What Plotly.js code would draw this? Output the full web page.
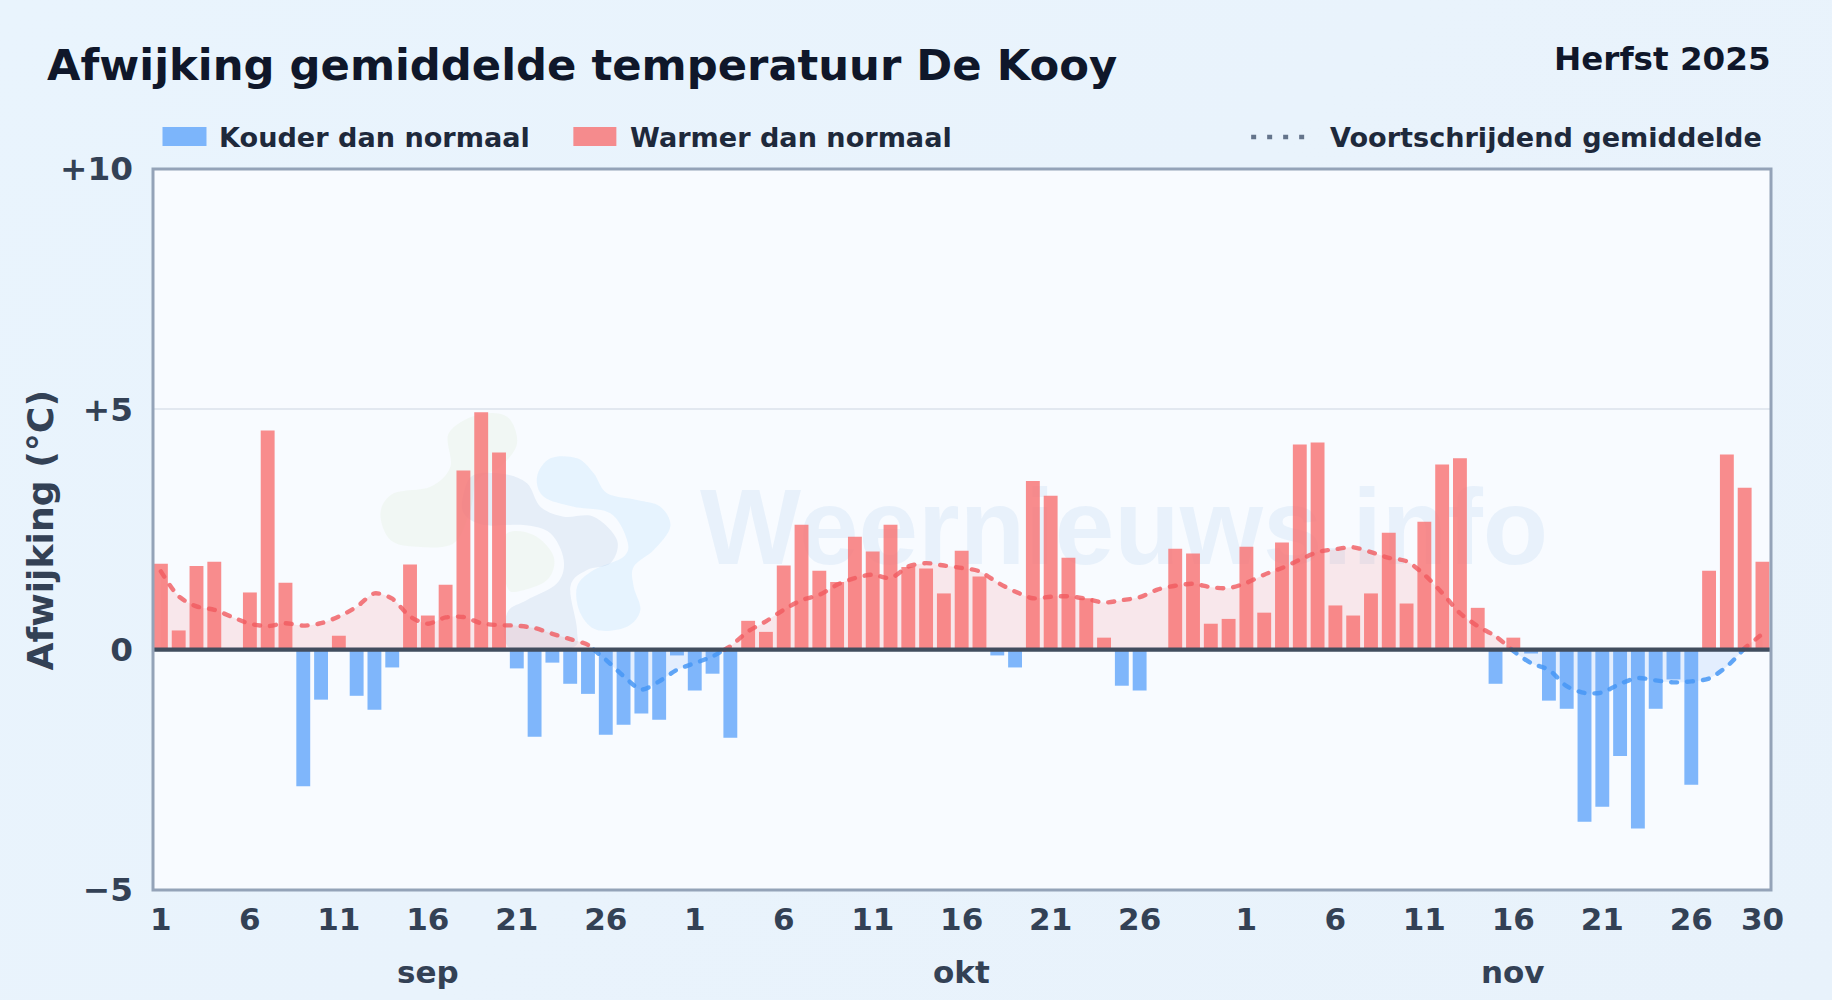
<!DOCTYPE html>
<html><head><meta charset="utf-8">
<script src="https://cdn.plot.ly/plotly-3.0.1.min.js"></script>
<style>html,body{margin:0;padding:0;width:1832px;height:1000px;overflow:hidden;background:linear-gradient(135deg,#e9f4fd 0%,#e9f3fc 50%,#e8f2fb 100%);}#c{width:1832px;height:1000px;}</style>
</head><body><div id="c"></div>
<script>
const W = 1832, H = 1000;
const monthLabels = ['sep','okt','nov'];
const monthLabelDays = [15,45,76];
const dayNumbers = [30,31,30];
const tickEvery = 5;
const lastTickedDay = 26;
const yTickVals = [-5,0,5,10];
const yTickText = ['−5','0','+5','+10'];
const seriesNames = ['Kouder dan normaal','Warmer dan normaal','Voortschrijdend gemiddelde'];
const anomaly = [
 1.79,0.40,1.74,1.83,0,1.19,4.56,1.39,-2.84,-1.04,0.29,-0.96,-1.25,-0.37,1.77,0.71,1.35,3.73,4.94,4.10,-0.39,-1.81,-0.27,-0.71,-0.92,-1.77,-1.56,-1.33,-1.46,-0.12,
 -0.85,-0.50,-1.83,0.60,0.37,1.75,2.60,1.64,1.41,2.35,2.04,2.60,1.72,1.69,1.17,2.06,1.52,-0.12,-0.37,3.51,3.20,1.91,1.07,0.25,-0.75,-0.85,0,2.10,2.00,0.54,0.64,
 2.14,0.77,2.23,4.27,4.31,0.92,0.71,1.17,2.43,0.96,2.66,3.85,3.98,0.87,-0.71,0.25,-0.08,-1.06,-1.23,-3.58,-3.27,-2.21,-3.72,-1.23,-0.62,-2.81,1.64,4.06,3.37,1.83];
const movingAvg = [
 1.63,1.11,0.90,0.83,0.68,0.54,0.49,0.55,0.50,0.55,0.69,0.89,1.17,1.06,0.69,0.54,0.67,0.68,0.55,0.51,0.50,0.45,0.33,0.22,0.10,-0.21,-0.55,-0.83,-0.66,-0.42,
 -0.28,-0.14,0.07,0.38,0.59,0.83,1.03,1.14,1.35,1.49,1.56,1.49,1.73,1.80,1.75,1.70,1.63,1.40,1.21,1.07,1.10,1.11,1.06,0.98,1.03,1.09,1.25,1.33,1.37,1.30,1.28,
 1.39,1.56,1.70,1.87,2.03,2.09,2.13,2.03,1.91,1.84,1.56,1.18,0.76,0.49,0.28,-0.03,-0.28,-0.42,-0.76,-0.90,-0.89,-0.71,-0.59,-0.64,-0.68,-0.66,-0.60,-0.35,0.03,0.33];

// derived axis data
const idx = anomaly.map((_,i)=>i);
const tickVals=[], tickText=[];
let off=0;
dayNumbers.forEach((n)=>{ for(let d=1;d<=lastTickedDay;d+=tickEvery){tickVals.push(off+d-1);tickText.push(String(d));} off+=n; });
tickVals.push(off-1); tickText.push(String(dayNumbers[2]));

// split moving average into warm and cold parts at zero crossings
function part(sign){
  const xs=[],ys=[];
  for(let i=0;i<movingAvg.length;i++){
    const v=movingAvg[i];
    if(v*sign>0){xs.push(i);ys.push(v);}
    if(i<movingAvg.length-1){
      const w=movingAvg[i+1];
      if(v*w<0){
        const t=v/(v-w);
        xs.push(i+t);ys.push(0);
        if(w*sign<0){xs.push(i+t);ys.push(null);}
      }
    }
  }
  return {xs,ys};
}
const warm=part(1), cold=part(-1);

const RED='#f87171', BLUE='#60a5fa';
const DASH='6px,10px';
const traces=[
 {type:'bar',x:idx.filter(i=>anomaly[i]<0),y:anomaly.filter(v=>v<0),name:seriesNames[0],width:0.78,marker:{color:BLUE,opacity:0.8,line:{width:0}},showlegend:false},
 {type:'bar',x:idx.filter(i=>anomaly[i]>0),y:anomaly.filter(v=>v>0),name:seriesNames[1],width:0.78,marker:{color:RED,opacity:0.8,line:{width:0}},showlegend:false},
 {type:'scatter',mode:'lines',x:warm.xs,y:warm.ys,name:seriesNames[2],line:{color:'rgba(240,90,95,0.8)',width:4.4,dash:DASH,shape:'spline',smoothing:0.8},fill:'tozeroy',fillcolor:'rgba(248,113,113,0.14)',showlegend:false,connectgaps:false},
 {type:'scatter',mode:'lines',x:cold.xs,y:cold.ys,name:seriesNames[2],line:{color:'rgba(70,150,245,0.85)',width:4.4,dash:DASH,shape:'spline',smoothing:0.8},fill:'tozeroy',fillcolor:'rgba(96,165,250,0.14)',showlegend:false,connectgaps:false}
];

// geometry helpers: pixel positions of decoration turned into paper coordinates
const L=152.5,R=61,T=169,B=110;
const px=x=>(x-L)/(W-L-R), py=y=>1-(y-T)/(H-T-B);
const Z=(p)=>[360+p[0]/3,400+p[1]/3];
const logoGreenBig=[[265,100],[350,45],[440,50],[470,130],[420,200],[350,240],[330,330],[280,430],[170,440],[90,420],[60,340],[100,280],[210,260],[270,200]];
const logoGreenSmall=[[440,400],[520,405],[580,470],[560,540],[470,575],[440,560],[430,480]];
const logoCentre=[[310,280],[340,225],[430,222],[500,250],[540,320],[610,350],[700,350],[770,420],[750,490],[680,510],[630,560],[650,690],[630,745],[450,745],[440,640],[500,600],[590,550],[610,480],[570,400],[490,375],[370,375],[310,340]];
const logoSky=[[530,230],[570,175],[650,175],[700,220],[740,280],[830,300],[900,320],[930,380],[880,450],[820,500],[820,560],[840,630],[800,680],[710,690],[660,640],[650,560],[700,510],[790,470],[800,420],[750,340],[640,320],[550,290]];
function blob(pts){
  const P=pts.map(Z), n=P.length;
  let d=`M${px(P[0][0])},${py(P[0][1])}`;
  for(let i=0;i<n;i++){
    const p0=P[(i-1+n)%n],p1=P[i],p2=P[(i+1)%n],p3=P[(i+2)%n];
    const c1=[p1[0]+(p2[0]-p0[0])/6,p1[1]+(p2[1]-p0[1])/6],c2=[p2[0]-(p3[0]-p1[0])/6,p2[1]-(p3[1]-p1[1])/6];
    d+=`C${px(c1[0])},${py(c1[1])} ${px(c2[0])},${py(c2[1])} ${px(p2[0])},${py(p2[1])}`;
  }
  return d+'Z';
}
const logo=(pts,c)=>({type:'path',xref:'paper',yref:'paper',path:blob(pts),fillcolor:c,line:{width:0},layer:'below'});
const shapes=[
 logo(logoGreenBig,'rgba(170,210,110,0.08)'),
 logo(logoGreenSmall,'rgba(170,210,110,0.08)'),
 logo(logoCentre,'rgba(110,150,200,0.12)'),
 logo(logoSky,'rgba(90,185,250,0.11)'),
 // zero line
 {type:'line',xref:'paper',x0:0,x1:1,yref:'y',y0:0,y1:0,line:{color:'#414d5e',width:4.2},layer:'above'},
 // plot frame
 {type:'rect',xref:'paper',yref:'paper',x0:0,x1:1,y0:0,y1:1,line:{color:'#94a3b8',width:3},fillcolor:'rgba(0,0,0,0)',layer:'above'},
 // legend keys
 {type:'rect',xref:'paper',yref:'paper',x0:px(162),x1:px(206),y0:py(146),y1:py(127),fillcolor:'rgba(96,165,250,0.8)',line:{width:0}},
 {type:'rect',xref:'paper',yref:'paper',x0:px(573),x1:px(616),y0:py(146),y1:py(127),fillcolor:'rgba(248,113,113,0.8)',line:{width:0}},
 {type:'line',xref:'paper',yref:'paper',x0:px(1251),x1:px(1308),y0:py(137),y1:py(137),line:{color:'#64748b',width:4.5,dash:'5px,11px'}}
];
const F='"DejaVu Sans"';
const txt=(t,x,y,size,color,anchor)=>({text:t,xref:'paper',yref:'paper',x:px(x),y:py(y),xanchor:anchor,yanchor:'middle',showarrow:false,font:{family:F,size,color,weight:700}});
const annotations=[
 {text:'Weernieuws.info',xref:'paper',yref:'paper',x:px(1124),y:py(527),xanchor:'center',yanchor:'middle',showarrow:false,font:{family:'"Liberation Sans"',size:107,color:'rgba(100,160,220,0.105)',weight:700}},
 txt('Herfst 2025',1773,59,32.6,'#0f172a','right'),
 txt(seriesNames[0],217,137,27.1,'#1e293b','left'),
 txt(seriesNames[1],628,137,27.1,'#1e293b','left'),
 txt(seriesNames[2],1328,137,27.1,'#1e293b','left'),
 Object.assign(txt('Afwijking (°C)',39,531,36.2,'#334155','center'),{textangle:-90})
];
monthLabels.forEach((m,i)=>annotations.push({text:m,xref:'x',x:monthLabelDays[i],yref:'paper',y:py(972),xanchor:'center',yanchor:'middle',showarrow:false,font:{family:F,size:31,color:'#334155',weight:700}}));

const xStart=-0.444, xEnd=90.48;
Plotly.newPlot('c',traces,{
 width:W,height:H,paper_bgcolor:'rgba(0,0,0,0)',plot_bgcolor:'#f8fbff',
 margin:{l:L,r:R,t:T,b:B,pad:0},barmode:'overlay',
 title:{text:'Afwijking gemiddelde temperatuur De Kooy',x:47/W,xref:'container',xanchor:'left',y:1-65/H,yref:'container',yanchor:'middle',font:{family:F,size:43.3,color:'#0f172a',weight:700}},
 xaxis:{range:[xStart,xEnd],tickmode:'array',tickvals:tickVals,ticktext:tickText,tickangle:0,showgrid:false,zeroline:false,showline:false,ticks:'',ticklabelstandoff:8,tickfont:{family:F,size:31,color:'#334155',weight:700}},
 yaxis:{range:[-5,10],tickmode:'array',tickvals:yTickVals,ticktext:yTickText,showgrid:true,gridcolor:'#e2e8f0',gridwidth:2,zeroline:false,showline:false,ticks:'',ticklabelstandoff:19,tickfont:{family:F,size:32.7,color:'#334155',weight:700}},
 shapes,annotations,showlegend:false
},{displayModeBar:false}).then(()=>{
  // round the dashes and put the watermark behind the bars
  document.querySelectorAll('.scatterlayer .js-line').forEach(p=>p.style.strokeLinecap='round');
  const wm=document.querySelector('.annotation[data-index="0"]');
  const below=document.querySelector('.layer-below');
  if(wm&&below) below.appendChild(wm);
});
</script></body></html>
